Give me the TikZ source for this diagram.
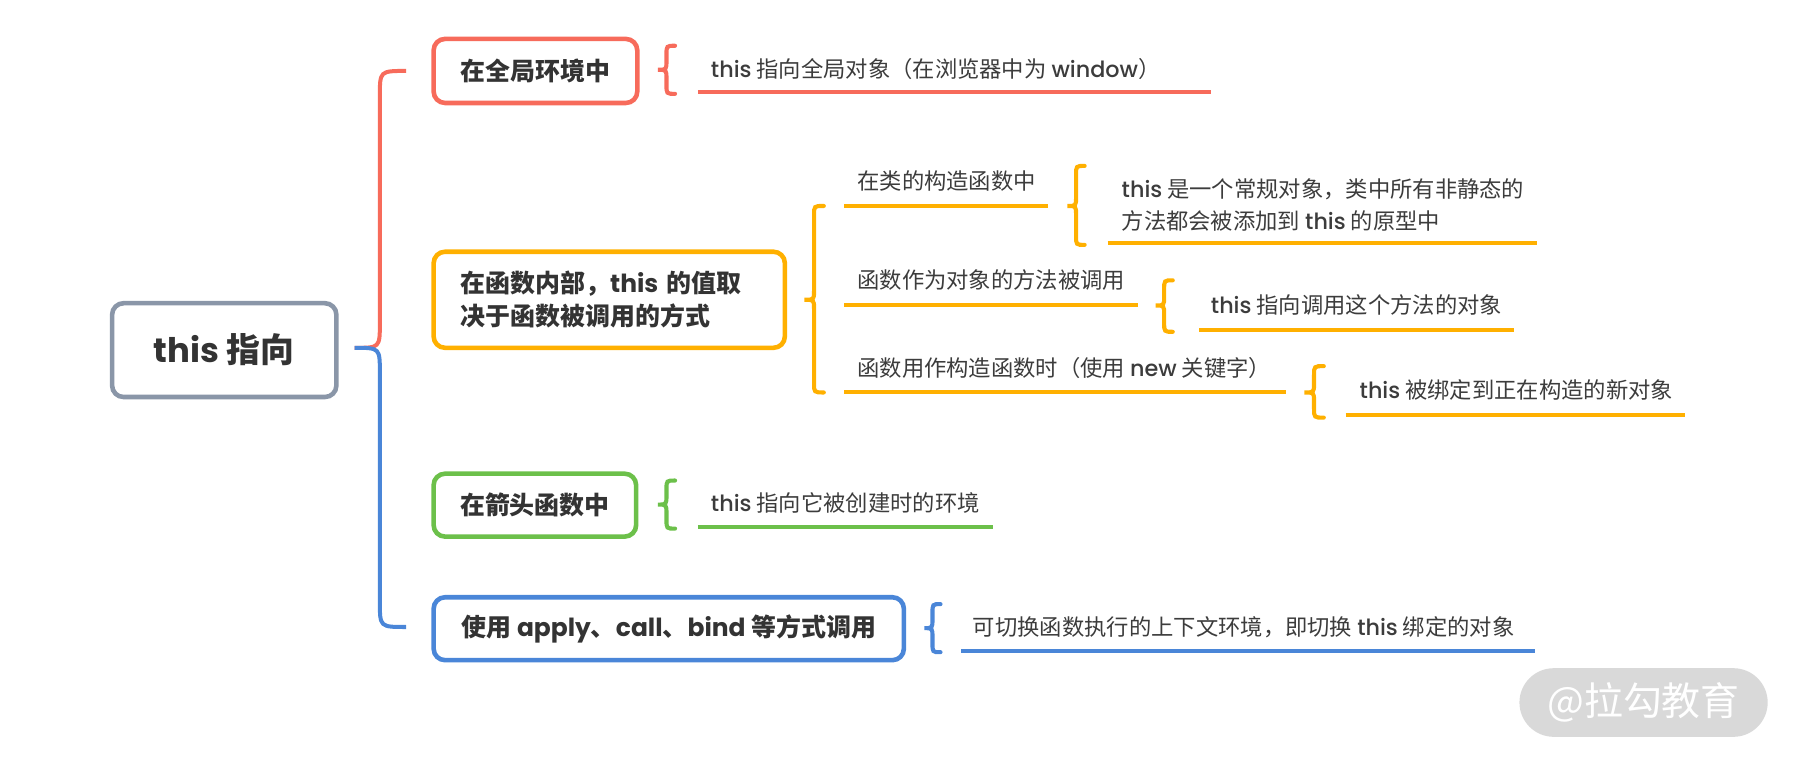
\documentclass[tikz,border=0pt]{standalone}
\usepackage{fontspec}
\setmainfont{Noto Sans CJK SC}
\newfontfamily\lat{Poppins}[UprightFont={* Medium},BoldFont={* Bold}]
\definecolor{cred}{HTML}{F76B5B}
\definecolor{cyel}{HTML}{FFB000}
\definecolor{cgrn}{HTML}{6CC04A}
\definecolor{cblu}{HTML}{4A86D8}
\definecolor{cgry}{HTML}{8A96A8}
\definecolor{ctxt}{HTML}{333333}
\definecolor{cleaf}{HTML}{3C3C3C}
\definecolor{cwm}{HTML}{D9D9D9}
\newcommand\regfont{\fontsize{9.75}{14}\selectfont}
\newcommand\boxfont{\fontsize{10.9}{14.5}\selectfont\bfseries}
\newcommand\rootfont{\fontsize{14.8}{17}\selectfont\bfseries}
\newcommand\bracepath[6]{%
  \draw[brl,#1] (#6,#3) .. controls ({(#2+#6)/2},#3) .. ({(#2+#6)/2},{#3+8})
    -- ({(#2+#6)/2},{#4-8}) .. controls ({(#2+#6)/2},#4) .. (#2,#4)
    .. controls ({(#2+#6)/2},#4) .. ({(#2+#6)/2},{#4+8})
    -- ({(#2+#6)/2},{#5-8}) .. controls ({(#2+#6)/2},#5) .. (#6,#5);}
\begin{document}
\begin{tikzpicture}[x=0.5pt,y=-0.5pt,
  box/.style={draw,line width=2pt,rounded corners=5pt,fill=white,text=ctxt,font=\boxfont,inner sep=0pt},
  leaf/.style={anchor=west,inner sep=0pt,text=cleaf,font=\regfont,align=left},
  uline/.style={line width=1.75pt},
  brl/.style={line width=1.8pt,line cap=round},
  branch/.style={line width=1.75pt}]
\useasboundingbox (0,0) rectangle (1568,666);

% root
\node[box,draw=cgry,minimum width=98pt,minimum height=41pt,font=\rootfont] (root) at (196,306) {{\lat this} 指向};

% branch curves
\coordinate (rs) at (310,304);
\coordinate (re) at (355,62);
\coordinate (be) at (355,548);
\draw[branch,cred] (rs) .. controls (332,304) .. (332,282) -- (332,84) .. controls (332,62) .. (re);
\draw[branch,cblu] (rs) .. controls (332,304) .. (332,326) -- (332,526) .. controls (332,548) .. (be);

% level-1 boxes
\node[box,draw=cred,minimum width=89pt,minimum height=28pt] (b1) at (468,62) {在全局环境中};
\node[box,draw=cyel,minimum width=153.5pt,minimum height=42pt,text width=130pt,inner xsep=11.75pt,align=left] (b2) at (532.5,262) {在函数内部，{\lat this} 的值取\\决于函数被调用的方式};
\node[box,draw=cgrn,minimum width=88.5pt,minimum height=27.5pt] (b3) at (467.5,441.5) {在箭头函数中};
\node[box,draw=cblu,minimum width=205.5pt,minimum height=27.5pt] (b4) at (584.5,549.5) {使用 {\lat apply}、{\lat call}、{\lat bind} 等方式调用};

% red leaf
\bracepath{cred}{575}{40}{61}{82}{590}
\node[leaf] (l1) at (621,60) {{\lat this} 指向全局对象（在浏览器中为 {\lat window}）};
\coordinate (u1a) at (610,80); \coordinate (u1b) at (1058,80);
\draw[uline,cred] (u1a) -- (u1b);

% yellow sub branches
\bracepath{cyel}{703}{180}{262}{343}{720}
\node[leaf] (s1) at (749,158) {在类的构造函数中};
\coordinate (s1a) at (738,180); \coordinate (s1b) at (916,180);
\draw[uline,cyel] (s1a) -- (s1b);
\node[leaf] (s2) at (749,245) {函数作为对象的方法被调用};
\coordinate (s2a) at (738,267); \coordinate (s2b) at (995,267);
\draw[uline,cyel] (s2a) -- (s2b);
\node[leaf] (s3) at (749,322) {函数用作构造函数时（使用 {\lat new} 关键字）};
\coordinate (s3a) at (738,343); \coordinate (s3b) at (1124,343);
\draw[uline,cyel] (s3a) -- (s3b);

\bracepath{cyel}{933}{145}{180}{214}{948}
\node[leaf] (t1) at (980,179) {{\lat this} 是一个常规对象，类中所有非静态的\\方法都会被添加到 {\lat this} 的原型中};
\coordinate (t1a) at (968,212); \coordinate (t1b) at (1343,212);
\draw[uline,cyel] (t1a) -- (t1b);

\bracepath{cyel}{1010}{245}{267}{290}{1025}
\node[leaf] (t2) at (1058,267) {{\lat this} 指向调用这个方法的对象};
\coordinate (t2a) at (1048,288); \coordinate (t2b) at (1323,288);
\draw[uline,cyel] (t2a) -- (t2b);

\bracepath{cyel}{1140}{320}{343}{365}{1157}
\node[leaf] (t3) at (1188,341) {{\lat this} 被绑定到正在构造的新对象};
\coordinate (t3a) at (1176,363); \coordinate (t3b) at (1473,363);
\draw[uline,cyel] (t3a) -- (t3b);

% green leaf
\bracepath{cgrn}{575}{420}{441}{462}{590}
\node[leaf] (l3) at (621,440) {{\lat this} 指向它被创建时的环境};
\coordinate (u3a) at (610,461); \coordinate (u3b) at (868,461);
\draw[uline,cgrn] (u3a) -- (u3b);

% blue leaf
\bracepath{cblu}{808}{528}{549}{570}{822}
\node[leaf] (l4) at (850,548) {可切换函数执行的上下文环境，即切换 {\lat this} 绑定的对象};
\coordinate (u4a) at (840,569); \coordinate (u4b) at (1342,569);
\draw[uline,cblu] (u4a) -- (u4b);

% watermark
\node[fill=cwm,rounded corners=15pt,minimum width=108.5pt,minimum height=30pt,inner sep=0pt,text=white,font=\fontsize{17}{20}\selectfont] (wm) at (1436.5,614) {@拉勾教育};
\end{tikzpicture}
\end{document}
